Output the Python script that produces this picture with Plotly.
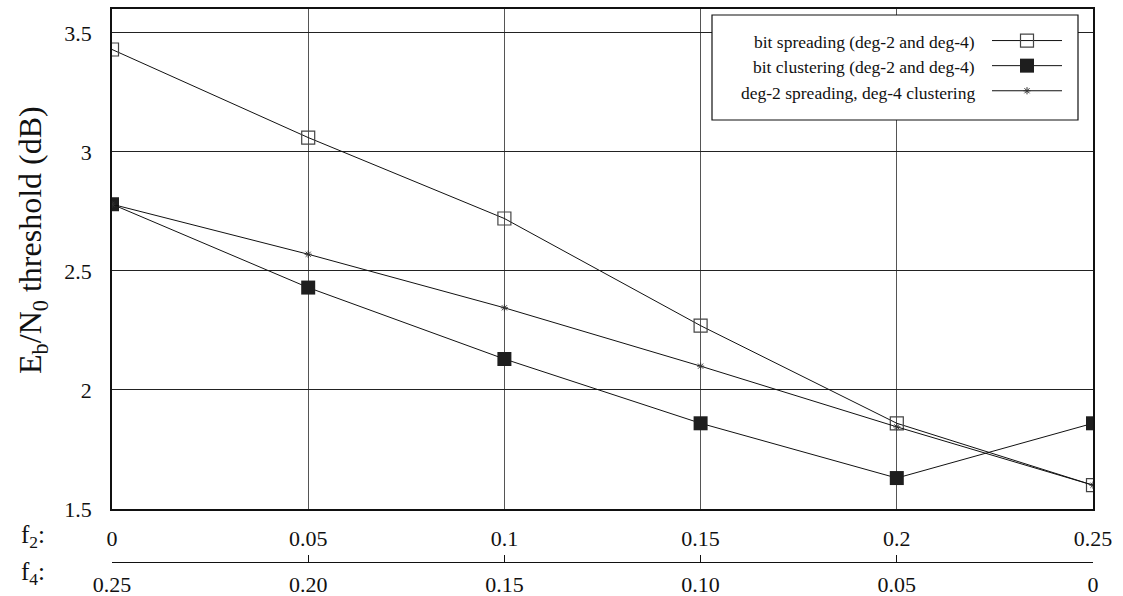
import plotly.graph_objects as go

f2 = [0, 0.05, 0.1, 0.15, 0.2, 0.25]
f4_labels = ["0.25", "0.20", "0.15", "0.10", "0.05", "0"]
f2_labels = ["0", "0.05", "0.1", "0.15", "0.2", "0.25"]

bit_spreading = [3.43, 3.06, 2.72, 2.27, 1.86, 1.60]
bit_clustering = [2.78, 2.43, 2.13, 1.86, 1.63, 1.86]
mixed = [2.78, 2.57, 2.345, 2.10, 1.845, 1.60]

names = ["bit spreading (deg-2 and deg-4)",
         "bit clustering (deg-2 and deg-4)",
         "deg-2 spreading, deg-4 clustering"]

FONT = "Liberation Serif"
fig = go.Figure()
fig.add_trace(go.Scatter(x=f2, y=bit_spreading, mode="lines+markers", name=" ",
                         line=dict(color="#111", width=1),
                         marker=dict(symbol="square-open", size=13, color="#444", line=dict(width=1.2))))
fig.add_trace(go.Scatter(x=f2, y=bit_clustering, mode="lines+markers", name="  ",
                         line=dict(color="#111", width=1),
                         marker=dict(symbol="square", size=14, color="#1e1e1e")))
fig.add_trace(go.Scatter(x=f2, y=mixed, mode="lines+markers", name="   ",
                         line=dict(color="#111", width=1),
                         marker=dict(symbol="asterisk-open", size=6, color="#333", line=dict(width=1))))
# invisible trace to anchor the f4 axis
fig.add_trace(go.Scatter(x=[0.25 - v for v in f2], y=mixed, xaxis="x2", mode="markers",
                         marker=dict(opacity=0), showlegend=False, hoverinfo="skip"))

PH = 596 - 9 - 20
def py(p):
    return (576 - p) / PH
def px(p):
    return (p - 112) / 981

fig.update_layout(
    width=1123, height=596,
    margin=dict(l=112, r=30, t=9, b=20, autoexpand=False),
    paper_bgcolor="white", plot_bgcolor="white",
    font=dict(family=FONT, size=22, color="#111"),
    showlegend=True,
    legend=dict(x=px(1085), xanchor="right", y=py(23), yanchor="top",
                bgcolor="rgba(0,0,0,0)", borderwidth=0, itemwidth=70,
                font=dict(size=17), tracegroupgap=0),
    xaxis=dict(range=[0, 0.25], tickvals=f2, ticktext=f2_labels, showgrid=True,
               gridcolor="#555", gridwidth=1, showline=True, linecolor="#111",
               linewidth=1.5, mirror=True, ticks="", zeroline=False, automargin=False,
               ticklabelstandoff=9, tickfont=dict(size=22), anchor="y"),
    xaxis2=dict(range=[0.25, 0], overlaying="x", anchor="free", automargin=False,
                position=py(562), tickvals=[0.25 - v for v in f2], ticktext=f4_labels,
                showline=True, linecolor="#111", linewidth=1.2, ticks="inside",
                ticklen=7, tickcolor="#111", showgrid=False, zeroline=False,
                side="bottom", ticklabelstandoff=2, tickfont=dict(size=22)),
    yaxis=dict(range=[1.5, 3.6], domain=[py(509), 1], dtick=0.5, tick0=1.5,
               showgrid=True, gridcolor="#222", gridwidth=1, showline=True,
               linecolor="#111", linewidth=1.5, mirror=True, ticks="", automargin=False,
               zeroline=False, ticklabelstandoff=14, tickfont=dict(size=22)),
    shapes=[dict(type="rect", xref="paper", yref="paper",
                 x0=px(712), x1=px(1078), y0=py(120), y1=py(15),
                 fillcolor="white", line=dict(color="#111", width=1.2), layer="above")],
)

ann = []
for n, yy in zip(names, [42, 67, 93]):
    ann.append(dict(text=n, xref="paper", yref="paper", x=px(977), y=py(yy),
                    xanchor="right", yanchor="middle", showarrow=False,
                    font=dict(size=17.5)))
ann.append(dict(text="E<sub>b</sub>/N<sub>0</sub> threshold (dB)", xref="paper", yref="paper",
                x=px(32), y=py(240), xanchor="center", yanchor="middle", textangle=-90,
                showarrow=False, font=dict(size=32)))
ann.append(dict(text="f<sub>2</sub>:", xref="paper", yref="paper", x=px(19), y=py(536),
                xanchor="left", yanchor="middle", showarrow=False, font=dict(size=25)))
ann.append(dict(text="f<sub>4</sub>:", xref="paper", yref="paper", x=px(19), y=py(573),
                xanchor="left", yanchor="middle", showarrow=False, font=dict(size=25)))
fig.update_layout(annotations=ann)

fig.write_html("out.html")
